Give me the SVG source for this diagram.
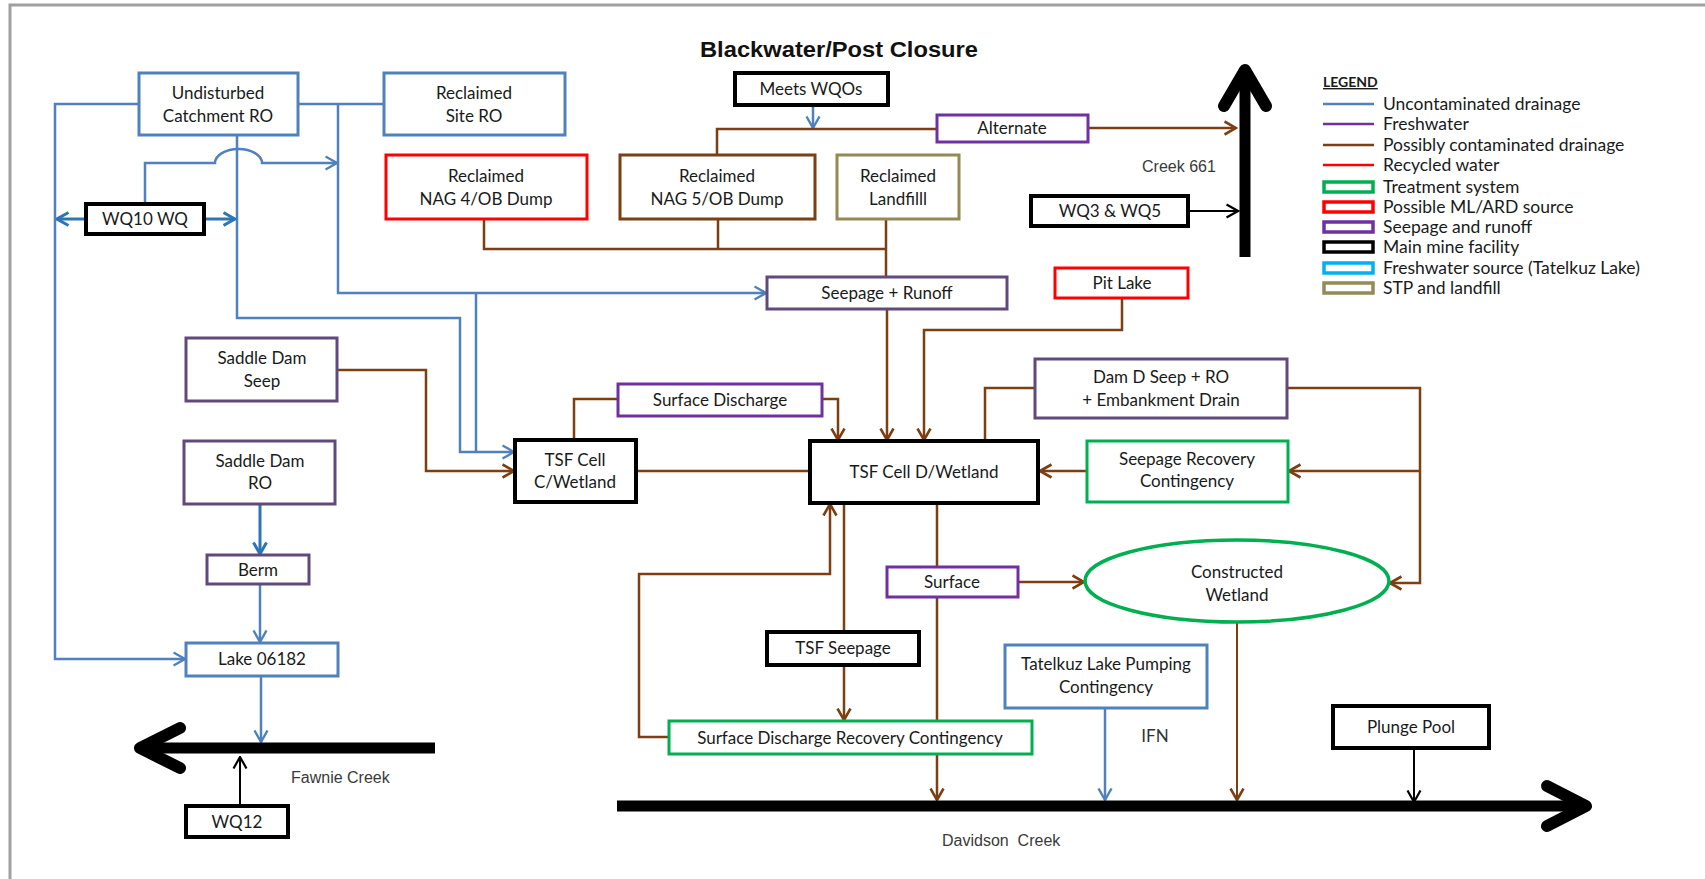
<svg xmlns="http://www.w3.org/2000/svg" width="1705" height="879" viewBox="0 0 1705 879">
<style>
.t{font-family:Lato,"Liberation Sans",sans-serif;font-size:17px;fill:#1a1a1a;text-anchor:middle}
.lg{font-family:Lato,"Liberation Sans",sans-serif;font-size:17.5px;fill:#1a1a1a}
.cr{font-family:"Liberation Sans",Arial,sans-serif;font-size:16px;fill:#3a3a3a}
.box{fill:#fff;stroke-width:3}
.blue{stroke:#4F81BD}.pur{stroke:#604A7B}.vio{stroke:#7030A0}.red{stroke:#FF0000}.brn{stroke:#7B3F12}.olv{stroke:#948A54}.blk{stroke:#000;stroke-width:4}.grn{stroke:#00B050}
.cb{fill:none;stroke:#4F81BD;stroke-width:2.5}
.cd{fill:none;stroke:#2E75B6;stroke-width:3}
.cn{fill:none;stroke:#7B3F12;stroke-width:2.5}
.ck{fill:none;stroke:#000;stroke-width:2}
.thick{fill:none;stroke:#000;stroke-width:11}
.head{fill:none;stroke:#000;stroke-width:12;stroke-linecap:round;stroke-linejoin:round}
</style>
<defs>
<marker id="ab" viewBox="0 0 14 16" refX="12.5" refY="8" markerWidth="14" markerHeight="16" markerUnits="userSpaceOnUse" orient="auto"><path d="M1,1.5 L12.5,8 L1,14.5" fill="none" stroke="#4F81BD" stroke-width="2.4"/></marker>
<marker id="ad" viewBox="0 0 14 16" refX="12.5" refY="8" markerWidth="14" markerHeight="16" markerUnits="userSpaceOnUse" orient="auto"><path d="M1,1.5 L12.5,8 L1,14.5" fill="none" stroke="#2E75B6" stroke-width="3"/></marker>
<marker id="an" viewBox="0 0 14 16" refX="12.5" refY="8" markerWidth="14" markerHeight="16" markerUnits="userSpaceOnUse" orient="auto"><path d="M1,1.5 L12.5,8 L1,14.5" fill="none" stroke="#7B3F12" stroke-width="2.6"/></marker>
<marker id="ak" viewBox="0 0 14 16" refX="12.5" refY="8" markerWidth="14" markerHeight="16" markerUnits="userSpaceOnUse" orient="auto"><path d="M1,1.5 L12.5,8 L1,14.5" fill="none" stroke="#000" stroke-width="2.2"/></marker>
</defs>
<rect width="1705" height="879" fill="#fff"/>
<path d="M10,879 V5 H1705" fill="none" stroke="#A0A0A0" stroke-width="3"/>

<text x="839" y="57" font-family="'Liberation Sans',Arial,sans-serif" font-weight="bold" font-size="22" text-anchor="middle" textLength="278" lengthAdjust="spacingAndGlyphs" fill="#111">Blackwater/Post Closure</text>

<g id="connectors">
<path class="cb" d="M139,104 H55 V659 H185" marker-end="url(#ab)"/>
<path class="cb" d="M298,104 H384"/>
<path class="cb" d="M338,104 V293 H766" marker-end="url(#ab)"/>
<path class="cb" d="M476,293 V452"/>
<path class="cb" d="M237,135 V318 H460 V452 H514" marker-end="url(#ab)"/>
<path class="cb" d="M145,204 V163 H215 A23.5,14 0 0 1 262,163 H337" marker-end="url(#ab)"/>
<path class="cd" d="M86,219 H57" marker-end="url(#ad)"/>
<path class="cd" d="M204,219 H235" marker-end="url(#ad)"/>
<path class="cd" d="M260,504 V554" marker-end="url(#ad)"/>
<path class="cb" d="M260,584 V642" marker-end="url(#ab)"/>
<path class="cb" d="M261,676 V742" marker-end="url(#ab)"/>
<path class="cb" d="M813,105 V128" marker-end="url(#ab)"/>
<path class="cb" d="M1105,708 V800" marker-end="url(#ab)"/>
<path class="cn" d="M484,219 V249 H886"/>
<path class="cn" d="M718,219 V249"/>
<path class="cn" d="M886,219 V277"/>
<path class="cn" d="M717,155 V129 H937"/>
<path class="cn" d="M1088,128 H1236" marker-end="url(#an)"/>
<path class="cn" d="M887,309 V440" marker-end="url(#an)"/>
<path class="cn" d="M1122,298 V330 H924 V440" marker-end="url(#an)"/>
<path class="cn" d="M337,370 H426 V471 H514" marker-end="url(#an)"/>
<path class="cn" d="M574,440 V399 H618"/>
<path class="cn" d="M822,399 H838 V440" marker-end="url(#an)"/>
<path class="cn" d="M636,471 H810"/>
<path class="cn" d="M1035,388 H985 V441"/>
<path class="cn" d="M1287,388 H1420 V583 H1390" marker-end="url(#an)"/>
<path class="cn" d="M1420,471 H1289" marker-end="url(#an)"/>
<path class="cn" d="M1087,471 H1040" marker-end="url(#an)"/>
<path class="cn" d="M844,503 V632"/>
<path class="cn" d="M844,665 V720" marker-end="url(#an)"/>
<path class="cn" d="M669,737 H639 V574 H830 V504" marker-end="url(#an)"/>
<path class="cn" d="M937,503 V567"/>
<path class="cn" d="M937,597 V800" marker-end="url(#an)"/>
<path class="cn" d="M1018,582 H1084" marker-end="url(#an)"/>
<path class="cn" d="M1237,622 V800" style="stroke-width:2" marker-end="url(#an)"/>
<path class="ck" d="M1188,211 H1238" marker-end="url(#ak)"/>
<path class="ck" d="M1414,748 V802" marker-end="url(#ak)"/>
<path class="ck" d="M240,806 V757" marker-end="url(#ak)"/>
<path class="thick" d="M1245,257 V72"/>
<path class="head" d="M1224,106 L1245,70 L1266,106"/>
<path class="thick" d="M435,748 H142"/>
<path class="head" d="M180,728 L140,748 L180,768"/>
<path class="thick" d="M617,806 H1584"/>
<path class="head" d="M1547,786 L1586,806 L1547,826"/>
</g>

<g id="undisturbed"><rect class="box blue" x="139" y="73" width="159" height="62"/><text class="t" x="218" y="99">Undisturbed</text><text class="t" x="218" y="122">Catchment RO</text></g>
<g id="siteRO"><rect class="box blue" x="384" y="73" width="181" height="62"/><text class="t" x="474" y="99">Reclaimed</text><text class="t" x="474" y="122">Site RO</text></g>
<g id="meets"><rect class="box blk" x="735" y="73" width="153" height="32"/><text class="t" x="811" y="95">Meets WQOs</text></g>
<g id="alternate"><rect class="box vio" x="937" y="115" width="151" height="27"/><text class="t" x="1012" y="134">Alternate</text></g>
<g id="nag4"><rect class="box red" x="386" y="155" width="201" height="64"/><text class="t" x="486" y="182">Reclaimed</text><text class="t" x="486" y="205">NAG 4/OB Dump</text></g>
<g id="nag5"><rect class="box brn" x="620" y="155" width="195" height="64"/><text class="t" x="717" y="182">Reclaimed</text><text class="t" x="717" y="205">NAG 5/OB Dump</text></g>
<g id="landfill"><rect class="box olv" x="837" y="155" width="122" height="64"/><text class="t" x="898" y="182">Reclaimed</text><text class="t" x="898" y="205">Landfilll</text></g>
<g id="wq3"><rect class="box blk" x="1031" y="196" width="157" height="30"/><text class="t" x="1110" y="217">WQ3 &amp; WQ5</text></g>
<g id="wq10"><rect class="box blk" x="86" y="204" width="118" height="30"/><text class="t" x="145" y="225">WQ10 WQ</text></g>
<g id="seeprun"><rect class="box pur" x="767" y="277" width="240" height="32"/><text class="t" x="887" y="299">Seepage + Runoff</text></g>
<g id="pitlake"><rect class="box red" x="1055" y="268" width="133" height="30"/><text class="t" x="1122" y="289">Pit Lake</text></g>
<g id="sdseep"><rect class="box pur" x="186" y="338" width="151" height="63"/><text class="t" x="262" y="364">Saddle Dam</text><text class="t" x="262" y="387">Seep</text></g>
<g id="surfdis"><rect class="box vio" x="618" y="384" width="204" height="32"/><text class="t" x="720" y="406">Surface Discharge</text></g>
<g id="damd"><rect class="box pur" x="1035" y="359" width="252" height="59"/><text class="t" x="1161" y="383">Dam D Seep + RO</text><text class="t" x="1161" y="406">+ Embankment Drain</text></g>
<g id="tsfc"><rect class="box blk" x="515" y="440" width="121" height="62"/><text class="t" x="575" y="466">TSF Cell</text><text class="t" x="575" y="488">C/Wetland</text></g>
<g id="tsfd"><rect class="box blk" x="810" y="441" width="228" height="62"/><text class="t" x="924" y="478">TSF Cell D/Wetland</text></g>
<g id="seeprec"><rect class="box grn" x="1087" y="441" width="201" height="61"/><text class="t" x="1187" y="465">Seepage Recovery</text><text class="t" x="1187" y="487">Contingency</text></g>
<g id="sdro"><rect class="box pur" x="184" y="441" width="151" height="63"/><text class="t" x="260" y="467">Saddle Dam</text><text class="t" x="260" y="489">RO</text></g>
<g id="berm"><rect class="box pur" x="207" y="555" width="102" height="29"/><text class="t" x="258" y="576">Berm</text></g>
<g id="surface"><rect class="box vio" x="887" y="567" width="131" height="30"/><text class="t" x="952" y="588">Surface</text></g>
<g id="wetland"><ellipse cx="1237" cy="581" rx="152" ry="41" fill="#fff" stroke="#00B050" stroke-width="3.5"/><text class="t" x="1237" y="578">Constructed</text><text class="t" x="1237" y="601">Wetland</text></g>
<g id="lake"><rect class="box blue" x="186" y="643" width="152" height="33"/><text class="t" x="262" y="665">Lake 06182</text></g>
<g id="tsfseep"><rect class="box blk" x="767" y="632" width="152" height="33"/><text class="t" x="843" y="654">TSF Seepage</text></g>
<g id="tatelkuz"><rect class="box blue" x="1005" y="645" width="202" height="63"/><text class="t" x="1106" y="670">Tatelkuz Lake Pumping</text><text class="t" x="1106" y="693">Contingency</text></g>
<g id="sdrc"><rect class="box grn" x="669" y="721" width="363" height="33"/><text class="t" x="850" y="744">Surface Discharge Recovery Contingency</text></g>
<g id="plunge"><rect class="box blk" x="1333" y="706" width="156" height="42"/><text class="t" x="1411" y="733">Plunge Pool</text></g>
<g id="wq12"><rect class="box blk" x="186" y="806" width="102" height="31"/><text class="t" x="237" y="828">WQ12</text></g>

<g id="labels">
<text class="cr" x="1142" y="172">Creek 661</text>
<text class="t" x="1155" y="742" style="fill:#333">IFN</text>
<text class="cr" x="291" y="783">Fawnie Creek</text>
<text class="cr" x="942" y="846" xml:space="preserve">Davidson  Creek</text>
</g>

<g id="legend">
<text class="lg" x="1323" y="87" font-weight="bold" style="font-size:14px" text-decoration="underline">LEGEND</text>
<line x1="1323" y1="104" x2="1374" y2="104" stroke="#4F81BD" stroke-width="2.5"/>
<line x1="1323" y1="124" x2="1374" y2="124" stroke="#7030A0" stroke-width="2.5"/>
<line x1="1323" y1="145" x2="1374" y2="145" stroke="#7B3F12" stroke-width="2.5"/>
<line x1="1323" y1="165" x2="1374" y2="165" stroke="#FF0000" stroke-width="2.5"/>
<rect x="1324" y="182" width="49" height="10" fill="#fff" stroke="#00B050" stroke-width="3.5"/>
<rect x="1324" y="202" width="49" height="10" fill="#fff" stroke="#FF0000" stroke-width="3.5"/>
<rect x="1324" y="222" width="49" height="10" fill="#fff" stroke="#7030A0" stroke-width="3.5"/>
<rect x="1324" y="242" width="49" height="10" fill="#fff" stroke="#000" stroke-width="3.5"/>
<rect x="1324" y="263" width="49" height="10" fill="#fff" stroke="#00B0F0" stroke-width="3.5"/>
<rect x="1324" y="283" width="49" height="10" fill="#fff" stroke="#948A54" stroke-width="3.5"/>
<text class="lg" x="1383" y="110">Uncontaminated drainage</text>
<text class="lg" x="1383" y="130">Freshwater</text>
<text class="lg" x="1383" y="151">Possibly contaminated drainage</text>
<text class="lg" x="1383" y="171">Recycled water</text>
<text class="lg" x="1383" y="193">Treatment system</text>
<text class="lg" x="1383" y="213">Possible ML/ARD source</text>
<text class="lg" x="1383" y="233">Seepage and runoff</text>
<text class="lg" x="1383" y="253">Main mine facility</text>
<text class="lg" x="1383" y="274">Freshwater source (Tatelkuz Lake)</text>
<text class="lg" x="1383" y="294">STP and landfill</text>
</g>
</svg>
